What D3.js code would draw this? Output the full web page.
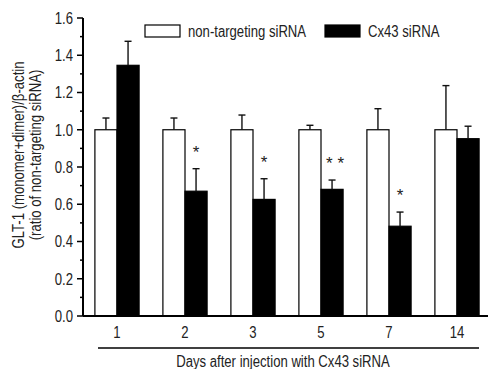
<!DOCTYPE html>
<html>
<head>
<meta charset="utf-8">
<script src="https://cdn.jsdelivr.net/npm/d3@7"></script>
<style>
  body { margin: 0; background: #fff; }
  text { font-family: "Liberation Sans", Arial, sans-serif; fill: #222; }
</style>
</head>
<body>
<div id="chart"></div>
<script>
// data
const days = ["1", "2", "3", "5", "7", "14"];
const series = ["non-targeting siRNA", "Cx43 siRNA"];
const controlMean = [1.0, 1.0, 1.0, 1.0, 1.0, 1.0];
const controlErr  = [0.063, 0.063, 0.079, 0.024, 0.113, 0.237];
const cx43Mean    = [1.346, 0.67, 0.626, 0.68, 0.482, 0.952];
const cx43Err     = [0.129, 0.121, 0.111, 0.05, 0.076, 0.067];
const stars       = ["", "*", "*", "* *", "*", ""];
const yTicks = [0, 0.2, 0.4, 0.6, 0.8, 1.0, 1.2, 1.4, 1.6];

const W = 488, H = 369;
const narrow = 0.82; // original font is a condensed sans

const svg = d3.select("#chart").append("svg")
  .attr("width", W).attr("height", H);

// text placed at (x, y) and squeezed horizontally
const place = (x, y, rot) =>
  `translate(${x},${y})${rot ? " rotate(" + rot + ")" : ""} scale(${narrow},1)`;

// scales
const x = d3.scaleBand()
  .domain(days)
  .range([83, 491])
  .paddingInner(0.35)
  .paddingOuter(0.175);

const xSub = d3.scaleBand()
  .domain(series)
  .range([0, x.bandwidth()]);

const y = d3.scaleLinear()
  .domain([0, 1.6])
  .range([316, 18]);

const rows = days.map((d, i) => [
  { day: d, s: series[0], v: controlMean[i], e: controlErr[i] },
  { day: d, s: series[1], v: cx43Mean[i], e: cx43Err[i] }
]).flat();

const fill = { "non-targeting siRNA": "#fff", "Cx43 siRNA": "#000" };

// bars
svg.append("g").selectAll("rect")
  .data(rows)
  .join("rect")
  .attr("x", d => x(d.day) + xSub(d.s))
  .attr("y", d => y(d.v))
  .attr("width", xSub.bandwidth())
  .attr("height", d => y(0) - y(d.v))
  .attr("fill", d => fill[d.s])
  .attr("stroke", "#000")
  .attr("stroke-width", 1.2);

// error bars (upper only)
const eb = svg.append("g").attr("stroke", "#111").attr("stroke-width", 1.4);
rows.forEach(d => {
  const cx = x(d.day) + xSub(d.s) + xSub.bandwidth() / 2;
  eb.append("line")
    .attr("x1", cx).attr("x2", cx)
    .attr("y1", y(d.v)).attr("y2", y(d.v + d.e));
  eb.append("line")
    .attr("x1", cx - 3.5).attr("x2", cx + 3.5)
    .attr("y1", y(d.v + d.e)).attr("y2", y(d.v + d.e));
});

// significance stars
svg.append("g").selectAll("text")
  .data(days.map((d, i) => ({ day: d, t: stars[i], top: cx43Mean[i] + cx43Err[i] })))
  .join("text")
  .attr("x", d => x(d.day) + xSub(series[1]) + xSub.bandwidth() / 2 + (d.t.length > 1 ? 3 : 0))
  .attr("y", d => y(d.top) - 11)
  .attr("text-anchor", "middle")
  .attr("font-size", 17)
  .text(d => d.t);

// y axis
const yAxis = svg.append("g").attr("transform", "translate(83,0)");
yAxis.append("line")
  .attr("y1", y(1.6)).attr("y2", y(0))
  .attr("stroke", "#000").attr("stroke-width", 2);
yAxis.selectAll(".major")
  .data(yTicks)
  .join("line")
  .attr("x1", -6).attr("x2", 0)
  .attr("y1", d => y(d)).attr("y2", d => y(d))
  .attr("stroke", "#000").attr("stroke-width", 1.5);
yAxis.selectAll(".minor")
  .data(yTicks.slice(1).map(t => t - 0.1))
  .join("line")
  .attr("x1", -3).attr("x2", 0)
  .attr("y1", d => y(d)).attr("y2", d => y(d))
  .attr("stroke", "#000").attr("stroke-width", 1.5);
yAxis.selectAll("text")
  .data(yTicks)
  .join("text")
  .attr("transform", d => place(-10, y(d)))
  .attr("dy", "0.36em")
  .attr("text-anchor", "end")
  .attr("font-size", 16)
  .text(d => d.toFixed(1));

// x axis baseline
svg.append("line")
  .attr("x1", 83).attr("x2", W)
  .attr("y1", y(0)).attr("y2", y(0))
  .attr("stroke", "#000").attr("stroke-width", 2);

svg.append("g").selectAll("text")
  .data(days)
  .join("text")
  .attr("transform", d => place(x(d) + x.bandwidth() / 2, 338))
  .attr("text-anchor", "middle")
  .attr("font-size", 16)
  .text(d => d);

svg.append("line")
  .attr("x1", 98).attr("x2", 479)
  .attr("y1", 348).attr("y2", 348)
  .attr("stroke", "#000").attr("stroke-width", 1.5);

svg.append("text")
  .attr("transform", place(283, 367))
  .attr("text-anchor", "middle")
  .attr("font-size", 16)
  .text("Days after injection with Cx43 siRNA");

// y title
const yt = svg.append("text")
  .attr("transform", place(0, 155, -90))
  .attr("text-anchor", "middle")
  .attr("font-size", 16);
yt.append("tspan").attr("x", 0).attr("y", 24).text("GLT-1 (monomer+dimer)/β-actin");
yt.append("tspan").attr("x", 0).attr("y", 41).text("(ratio of non-targeting siRNA)");

// legend
const legend = svg.append("g");
const legendX = [145, 325];
series.forEach((s, i) => {
  legend.append("rect")
    .attr("x", legendX[i]).attr("y", 25)
    .attr("width", 35).attr("height", 12)
    .attr("fill", fill[s])
    .attr("stroke", "#000").attr("stroke-width", 1.2);
  legend.append("text")
    .attr("transform", place(legendX[i] + 43, 37))
    .attr("font-size", 16)
    .text(s);
});
</script>
</body>
</html>
